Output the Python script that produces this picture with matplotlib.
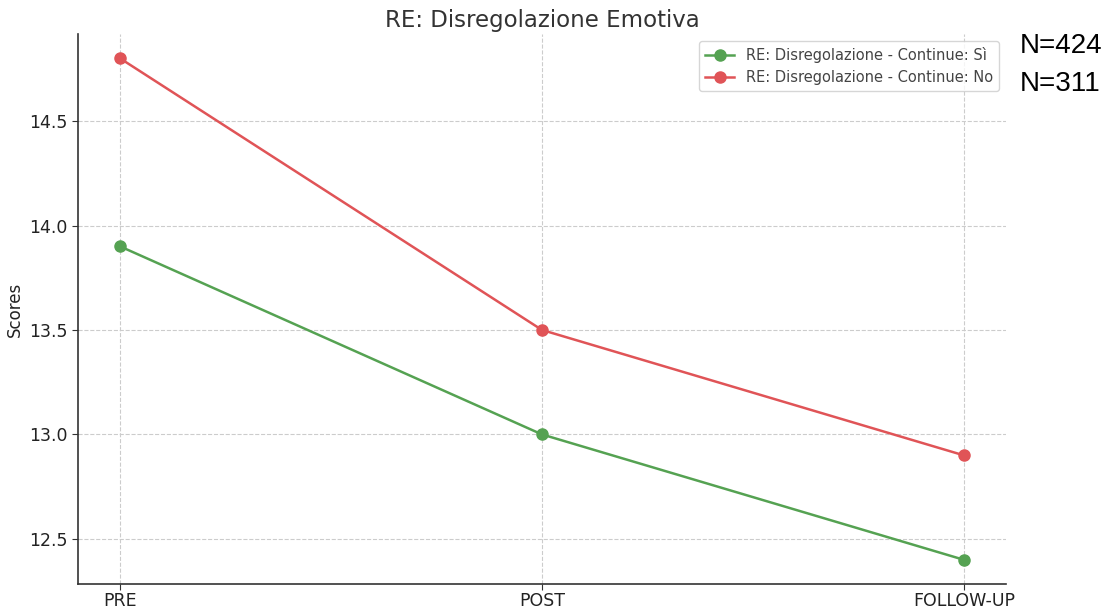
import matplotlib
matplotlib.use("Agg")
import matplotlib.pyplot as plt

categories = ["PRE", "POST", "FOLLOW-UP"]
series_si = [13.9, 13.0, 12.4]
series_no = [14.8, 13.5, 12.9]
label_si = "RE: Disregolazione - Continue: Sì"
label_no = "RE: Disregolazione - Continue: No"
title = "RE: Disregolazione Emotiva"
ylabel = "Scores"
n_texts = ["N=424", "N=311"]

fig = plt.figure(figsize=(11.07, 6.10), dpi=100)
ax = fig.add_axes([78/1107, 26/610, (1006-78)/1107, (584-34)/610])

x = list(range(len(categories)))
ax.plot(x, series_si, marker="o", color="#55a252", linewidth=1.8, markersize=8, label=label_si)
ax.plot(x, series_no, marker="o", color="#e05457", linewidth=1.8, markersize=8, label=label_no)

ax.set_xticks(x)
ax.set_xticklabels(categories)
ax.set_xlim(-0.1, 2.1)
ax.set_ylim(12.284, 14.917)
ax.set_yticks([12.5, 13.0, 13.5, 14.0, 14.5])
ax.tick_params(labelsize=12.5, colors="#333333", length=4)
ax.tick_params(axis="x", pad=1.5)
for lab in ax.get_xticklabels() + ax.get_yticklabels():
    lab.set_color("#222222")
ax.set_ylabel(ylabel, fontsize=12, color="#222222")
ax.set_title(title, fontsize=16.5, color="#333333", pad=5)
ax.grid(True, linestyle="--", color="#cccccc", linewidth=0.8)
ax.spines["top"].set_visible(False)
ax.spines["right"].set_visible(False)
for s in ("left", "bottom"):
    ax.spines[s].set_color("#333333")
    ax.spines[s].set_linewidth(1.2)

leg = ax.legend(loc="upper right", fontsize=10.5, frameon=True, borderaxespad=0.5)
leg.get_frame().set_edgecolor("#cccccc")
for t in leg.get_texts():
    t.set_color("#444444")

fig.text(1020/1107, 1 - 46/610, n_texts[0], fontsize=20, family="Liberation Sans", va="center", ha="left")
fig.text(1020/1107, 1 - 84/610, n_texts[1], fontsize=20, family="Liberation Sans", va="center", ha="left")

fig.savefig("out.png", dpi=100)
